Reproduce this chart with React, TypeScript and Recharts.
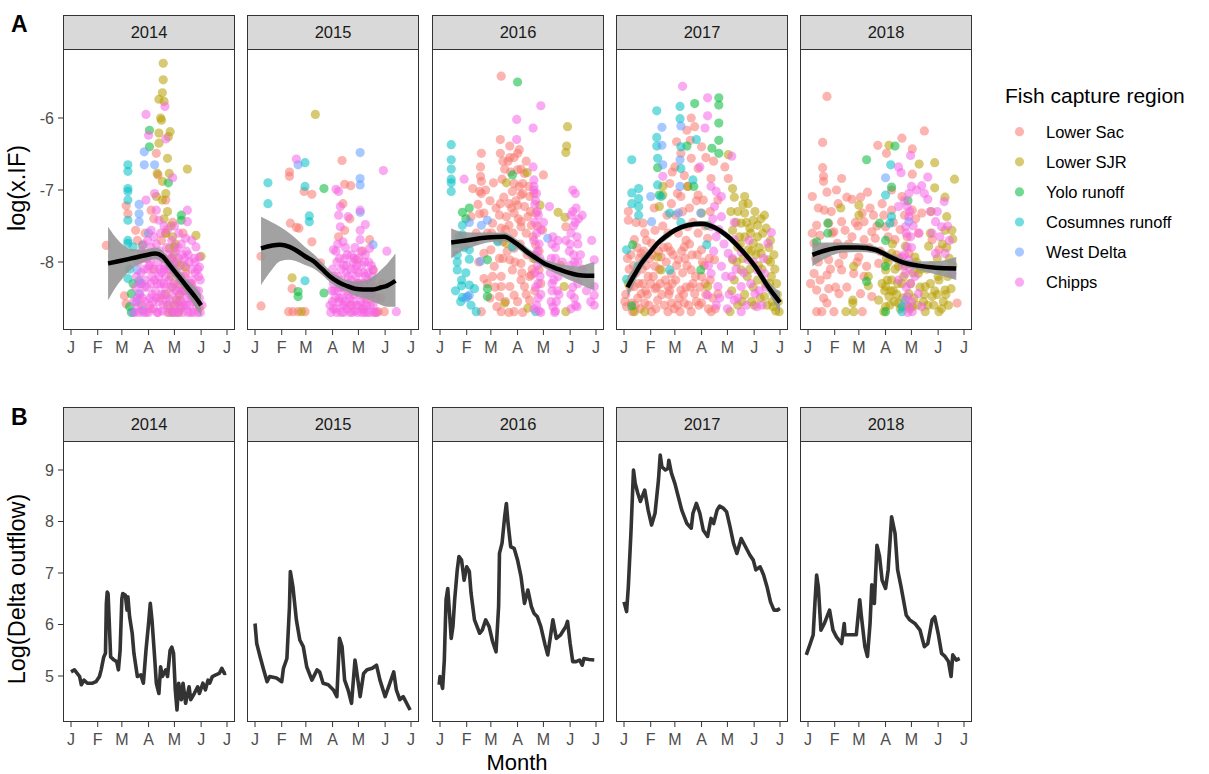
import React from "react";
import { ComposedChart, Scatter, Line, Area, XAxis, YAxis } from "recharts";

type Pt = [number, number];
// [day of year, fitted value, lower bound, upper bound]
type Fit = [number, number, number, number];

const years = ["2014", "2015", "2016", "2017", "2018"];
const monthTicks = [0, 31, 59, 90, 120, 151, 181];
const monthLabels = ["J", "F", "M", "A", "M", "J", "J"];
const regions = ["Lower Sac", "Lower SJR", "Yolo runoff", "Cosumnes runoff", "West Delta", "Chipps"];
const regionColors = ["#F8766D", "#B79F00", "#00BA38", "#00BFC4", "#619CFF", "#F564E3"];
const ifTicks = [-8, -7, -6];
const flowTicks = [5, 6, 7, 8, 9];

// ---- 2014 catches ----
const sac14: Pt[] = [[41,-7.77],[64,-7.22],[66,-7.33],[75,-7.56],[77,-7.7],[62,-8.47],[64,-8.58],[99,-6.49],[101,-6.79],[110,-7.14],[110,-7.6],[130,-7.6],[133,-8.16],[126,-8.53],[145,-8.53],[93,-7.28],[89,-7.88],[84,-7.95],[95,-8.1],[105,-7.7],[118,-7.45],[140,-8.3],[82,-8.6],[92,-8.65],[103,-8.5],[86,-7.6],[96,-7.4]];
const sjr14: Pt[] = [[107,-5.24],[107,-5.47],[106,-5.65],[102,-5.74],[108,-5.77],[104,-6.0],[105,-6.03],[102,-6.21],[115,-6.19],[113,-6.26],[102,-6.35],[112,-6.56],[135,-6.71],[100,-6.77],[114,-6.77],[106,-6.88],[110,-7.05],[99,-7.09],[106,-7.14],[110,-7.6],[118,-7.65],[120,-7.79],[114,-7.81],[145,-7.63],[151,-7.92],[133,-8.07],[122,-8.53],[128,-8.63],[118,-8.35],[149,-8.63],[116,-8.2],[120,-8.6],[124,-8.3],[127,-8.05],[117,-7.95],[121,-7.75],[114,-8.7],[110,-8.45],
  [112,-7.3],[116,-7.5],[119,-7.9],[123,-8.0],[126,-8.45],[112,-8.6],[118,-8.7],[125,-8.7],[108,-7.4],[130,-8.4]];
const yolo14: Pt[] = [[91,-6.17],[91,-6.4],[113,-6.9],[128,-7.35],[128,-7.42],[70,-8.44],[70,-8.7],[83,-7.77],[72,-8.3],[68,-8.62]];
const cos14: Pt[] = [[66,-6.65],[66,-6.74],[66,-6.98],[66,-7.02],[66,-7.14],[66,-7.42],[66,-7.7],[66,-7.74],[66,-8.23],[72,-7.79],[79,-8.26],[68,-8.1]];
const wd14: Pt[] = [[85,-6.47],[85,-6.65],[97,-6.65],[79,-7.2],[79,-7.33],[79,-7.44],[77,-8.11],[79,-8.44],[83,-8.67],[72,-8.7],[90,-7.6],[82,-8.3],[76,-8.55]];
const chipps14: Pt[] = [[87,-5.95],[90,-6.24],[109,-5.84],[110,-6.29],[87,-7.14],[97,-7.05],[118,-6.83],[135,-7.28],[135,-7.44],[133,-7.67],[145,-7.79],[149,-7.93],[149,-8.07],[99,-7.28],[102,-7.42],[93,-7.56],[108,-7.5],[125,-7.6],[140,-7.7],
  [74,-8.7],[78,-8.62],[80,-8.45],[84,-8.7],[86,-8.55],[88,-8.35],[90,-8.7],[92,-8.5],[94,-8.2],[96,-8.65],[98,-8.4],[100,-8.7],[102,-8.55],[104,-8.3],[106,-8.68],[108,-8.45],[110,-8.2],[112,-8.7],[114,-8.52],[116,-8.35],[118,-8.7],[120,-8.6],[122,-8.4],[124,-8.7],[126,-8.25],[128,-8.55],[130,-8.7],[132,-8.4],[134,-8.6],[136,-8.7],[138,-8.3],[140,-8.5],[142,-8.7],[144,-8.15],[146,-8.62],[148,-8.4],[150,-8.7],
  [78,-8.0],[82,-7.85],[85,-8.1],[88,-7.95],[91,-8.05],[93,-7.8],[95,-7.9],[97,-8.1],[99,-7.75],[101,-8.0],[103,-7.85],[105,-8.15],[107,-7.95],[109,-8.05],[111,-7.8],[113,-7.9],[115,-8.1],[117,-7.7],[119,-8.0],[121,-7.85],[123,-8.1],[125,-7.95],[127,-8.2],[129,-7.9],[131,-8.05],[134,-7.85],[137,-8.0],[140,-8.25],[143,-7.95],[147,-8.1],[150,-8.25],[76,-8.2],[80,-8.3],[86,-8.25],[94,-8.45],[100,-8.3],[108,-8.3],[114,-8.25],[120,-8.15],[126,-8.45],[132,-8.2],[138,-8.45],
  [73,-8.55],[75,-8.35],[77,-8.5],[79,-8.7],[81,-8.15],[83,-8.5],[85,-8.35],[87,-8.7],[89,-8.1],[91,-8.6],[93,-8.3],[95,-8.55],[97,-8.25],[99,-8.5],[101,-8.7],[103,-8.1],[105,-8.45],[107,-8.6],[109,-8.35],[111,-8.55],[113,-8.1],[115,-8.65],[117,-8.45],[119,-8.3],[121,-8.7],[123,-8.55],[125,-8.35],[127,-8.65],[129,-8.4],[131,-8.6],[133,-8.3],[135,-8.5],[137,-8.6],[139,-8.7],[141,-8.35],[143,-8.55],[145,-8.4],[147,-8.7],[149,-8.5],[152,-8.6],
  [84,-7.75],[89,-7.7],[96,-7.65],[104,-7.6],[112,-7.55],[120,-7.5],[128,-7.75],[136,-7.9],[144,-8.0],[100,-7.9],[116,-7.95],[124,-7.8],[92,-8.0],[108,-8.1],[132,-7.95],[140,-8.1],[148,-8.2],[118,-8.05],[102,-8.2],[86,-7.9]];
const fit14: Fit[] = [[43,-8.02,-8.53,-7.51],[55,-7.99,-8.3,-7.7],[70,-7.95,-8.1,-7.82],[85,-7.91,-8.0,-7.83],[98,-7.88,-7.96,-7.8],[106,-7.92,-8.0,-7.84],[115,-8.05,-8.13,-7.97],[125,-8.2,-8.29,-8.11],[135,-8.35,-8.45,-8.25],[145,-8.5,-8.64,-8.36],[151,-8.6,-8.75,-8.45]];

// ---- 2015 catches ----
const sac15: Pt[] = [[7,-7.92],[7,-8.61],[40,-6.75],[40,-6.81],[57,-7.02],[66,-7.06],[101,-6.59],[104,-6.92],[111,-6.94],[41,-7.46],[48,-7.52],[51,-7.53],[66,-7.72],[43,-8.37],[76,-8.01],[102,-7.19],[104,-7.56],[97,-7.65],[133,-7.69],[118,-7.97],[137,-8.11],[143,-8.69],[150,-8.69],[39,-8.69],[44,-8.69],[50,-8.69],[58,-8.69],[130,-8.53],[110,-7.4],[125,-7.85],
  [140,-8.7],[136,-8.45],[146,-8.5],[112,-8.6],[120,-8.3],[125,-8.65],[148,-8.3]];
const sjr15: Pt[] = [[70,-5.95],[43,-8.22],[54,-8.69]];
const yolo15: Pt[] = [[80,-6.98],[50,-8.41],[50,-8.48],[80,-8.43]];
const cos15: Pt[] = [[15,-6.9],[15,-7.19],[58,-6.62],[58,-6.95],[63,-7.36],[63,-7.44],[58,-8.26]];
const wd15: Pt[] = [[122,-6.48],[122,-6.84],[122,-6.93],[122,-7.31],[50,-6.65],[137,-7.76]];
const chipps15: Pt[] = [[48,-6.57],[149,-6.73],[94,-6.99],[97,-7.02],[122,-7.28],[99,-7.23],[97,-7.35],[108,-7.37],[128,-7.48],[99,-7.51],[122,-7.56],[122,-7.69],[102,-7.72],[133,-7.81],[153,-7.85],[91,-7.83],[137,-8.11],[91,-8.3],[164,-8.69],
  [88,-8.7],[90,-8.55],[92,-8.4],[94,-8.65],[96,-8.2],[98,-8.5],[100,-8.7],[102,-8.35],[104,-8.6],[106,-8.05],[108,-8.45],[110,-8.7],[112,-8.25],[114,-8.55],[116,-8.68],[118,-8.4],[120,-8.15],[122,-8.6],[124,-8.7],[126,-8.3],[128,-8.5],[130,-8.7],[132,-8.4],[134,-8.6],[136,-8.2],[138,-8.7],[140,-8.5],
  [95,-8.0],[100,-8.1],[104,-7.95],[108,-8.2],[112,-7.9],[116,-8.1],[120,-7.95],[124,-8.05],[128,-8.2],[132,-8.0],[110,-8.5],[118,-8.6],[126,-8.65],[96,-8.4],[102,-8.6],[114,-8.35],[122,-8.3],[130,-8.45],[92,-8.2],[106,-8.4],[134,-8.3],
  [87,-8.6],[89,-8.4],[91,-8.65],[93,-8.5],[95,-8.7],[97,-8.55],[99,-8.35],[101,-8.5],[103,-8.7],[105,-8.55],[107,-8.65],[109,-8.3],[111,-8.6],[113,-8.7],[115,-8.45],[117,-8.2],[119,-8.7],[121,-8.45],[123,-8.55],[125,-8.4],[127,-8.7],[129,-8.6],[131,-8.25],[133,-8.7],[135,-8.45],[137,-8.6],[139,-8.35],[141,-8.7],
  [94,-7.85],[98,-7.95],[103,-8.05],[107,-7.9],[111,-8.1],[115,-7.95],[119,-8.3],[123,-7.85],[127,-8.0],[131,-8.15],[135,-8.05],[100,-8.25],[106,-8.15],[114,-8.0],[126,-8.15],[118,-8.05],[110,-8.35],[90,-8.1],[96,-7.75],[105,-7.8],[116,-7.8],[128,-7.9]];
const fit15: Fit[] = [[7,-7.81,-8.32,-7.37],[20,-7.77,-8.1,-7.45],[29,-7.76,-7.99,-7.51],[40,-7.79,-7.97,-7.6],[48,-7.84,-7.99,-7.68],[58,-7.92,-8.04,-7.79],[68,-7.99,-8.09,-7.89],[78,-8.1,-8.18,-8.01],[87,-8.2,-8.28,-8.12],[97,-8.28,-8.36,-8.2],[106,-8.33,-8.41,-8.25],[116,-8.37,-8.47,-8.27],[126,-8.38,-8.5,-8.26],[137,-8.38,-8.55,-8.2],[147,-8.35,-8.6,-8.1],[153,-8.33,-8.62,-8.03],[163,-8.26,-8.62,-7.88]];

// ---- 2016 catches ----
const sac16: Pt[] = [[71,-5.42],[70,-6.3],[81,-6.39],[92,-6.44],[70,-6.49],[48,-6.49],[81,-6.55],[90,-6.49],[47,-6.68],[38,-6.98],[48,-6.88],[48,-7.05],[47,-6.81],[75,-6.71],[90,-6.72],[94,-6.71],[98,-6.77],[120,-6.79],[86,-6.91],[96,-6.91],[84,-7.02],[94,-7.07],[104,-7.09],[109,-7.05],[70,-7.19],[80,-7.19],[90,-7.21],[98,-7.23],[69,-7.35],[77,-7.37],[86,-7.32],[94,-7.44],[102,-7.37],[111,-7.32],[119,-7.56],[61,-7.46],[51,-7.32],[46,-7.33],[36,-7.37],[55,-7.6],[71,-7.53],[80,-7.49],[94,-7.51],[106,-7.49],[73,-7.72],[86,-7.81],[111,-7.76],[59,-7.83],[51,-7.88],[63,-8.06],[73,-7.95],[81,-7.97],[94,-8.02],[108,-7.95],[115,-8.11],[51,-8.23],[61,-8.2],[71,-8.2],[84,-8.11],[94,-8.25],[106,-8.18],[71,-8.34],[81,-8.34],[98,-8.34],[69,-8.48],[86,-8.46],[104,-8.53],[71,-8.69],[86,-8.69],[48,-8.69],[146,-7.51],[46,-7.02],
  [42,-7.6],[44,-7.2],[53,-7.0],[58,-7.15],[62,-6.9],[65,-7.25],[67,-7.7],[69,-7.95],[72,-6.85],[74,-7.1],[76,-7.55],[78,-7.85],[79,-6.6],[83,-7.25],[85,-7.6],[87,-8.0],[88,-7.15],[91,-7.4],[93,-7.75],[95,-8.15],[96,-7.05],[100,-7.6],[101,-7.9],[103,-6.95],[105,-7.3],[107,-8.1],[108,-7.65],[110,-8.4],[113,-7.5],[115,-7.85],[117,-8.3],[58,-8.5],[64,-8.35],[76,-8.55],[80,-8.7],[90,-8.55],[96,-8.7],[100,-8.45],[104,-8.2],[66,-8.62],[55,-8.3],[45,-8.0],[40,-7.7],[60,-7.6],[92,-6.95],[82,-6.75],[73,-6.6],[86,-6.55],[100,-6.6]];
const sjr16: Pt[] = [[148,-6.12],[147,-6.39],[146,-6.48],[77,-6.9],[101,-6.76],[137,-7.31],[145,-7.38],[116,-7.21],[77,-7.74],[144,-8.34],[75,-8.57],[102,-8.64],[146,-8.69],[110,-7.95],[140,-8.05]];
const yolo16: Pt[] = [[90,-5.5],[26,-7.31],[34,-7.25],[55,-7.97],[55,-8.37],[55,-8.48],[84,-6.79],[30,-7.4]];
const cos16: Pt[] = [[13,-6.37],[13,-6.58],[13,-6.71],[13,-6.85],[13,-6.9],[13,-7.02],[26,-7.49],[26,-7.62],[20,-7.9],[20,-8.0],[20,-8.11],[25,-8.25],[25,-8.33],[34,-8.32],[40,-8.37],[26,-8.49],[32,-8.48],[42,-8.69],[34,-7.83],[34,-7.96],[67,-7.72],[111,-8.69],[84,-7.79],[18,-7.75],[30,-8.15],[22,-7.65],[28,-7.8],[18,-8.4],[36,-8.6],[24,-8.55]];
const wd16: Pt[] = [[34,-7.45],[48,-7.49],[55,-7.42],[47,-7.99],[125,-7.67],[34,-8.46],[30,-8.5]];
const chipps16: Pt[] = [[28,-6.85],[117,-5.83],[89,-6.02],[108,-6.14],[89,-6.3],[108,-6.68],[109,-6.86],[109,-6.95],[154,-7.0],[157,-7.05],[127,-7.23],[158,-7.25],[165,-7.35],[152,-7.35],[179,-7.97],[179,-8.34],[179,-8.46],[179,-8.6],[120,-7.45],[142,-8.0],[146,-7.7],[165,-8.1],[170,-8.4],
  [109,-7.0],[111,-7.15],[113,-7.3],[110,-7.45],[112,-7.6],[115,-7.75],[110,-7.9],[113,-8.05],[116,-8.2],[111,-8.35],[114,-8.5],[109,-8.65],[117,-8.7],[112,-7.05],
  [131,-7.65],[134,-7.8],[129,-7.95],[136,-8.1],[132,-8.25],[130,-8.4],[135,-8.55],[133,-8.7],[137,-7.7],[128,-8.15],[138,-8.45],[131,-8.62],
  [154,-7.3],[157,-7.45],[152,-7.6],[160,-7.75],[155,-7.9],[151,-8.05],[158,-8.2],[154,-8.35],[156,-8.5],[152,-8.65],[159,-8.62],[160,-8.0],[150,-7.85],
  [110,-7.2],[114,-7.35],[117,-7.55],[109,-7.7],[113,-7.85],[116,-7.95],[110,-8.15],[114,-8.3],[117,-8.45],[112,-8.6],[115,-8.68],[130,-7.75],[134,-7.95],[137,-8.2],[130,-8.3],[136,-8.4],[129,-8.55],[134,-8.68],[155,-7.5],[159,-7.65],[151,-7.75],[156,-8.0],[153,-8.15],[160,-8.3],[152,-8.45],[157,-8.6],[161,-7.4],[163,-7.9],[175,-8.55],[176,-7.7]];
const fit16: Fit[] = [[13,-7.73,-7.95,-7.53],[25,-7.71,-7.85,-7.58],[36,-7.69,-7.8,-7.59],[55,-7.66,-7.73,-7.59],[75,-7.65,-7.71,-7.59],[86,-7.72,-7.78,-7.66],[95,-7.8,-7.86,-7.74],[102,-7.87,-7.93,-7.81],[112,-7.95,-8.01,-7.89],[121,-8.02,-8.08,-7.96],[131,-8.07,-8.14,-8.0],[140,-8.11,-8.19,-8.03],[150,-8.15,-8.25,-8.05],[160,-8.18,-8.3,-8.06],[170,-8.19,-8.35,-8.03],[179,-8.19,-8.39,-8.0]];

// ---- 2017 catches ----
const sac17: Pt[] = [[5,-7.3],[5,-7.42],[22,-7.46],[24,-7.6],[36,-7.56],[12,-7.69],[32,-7.74],[20,-7.88],[51,-7.6],[78,-6.0],[82,-6.12],[73,-6.17],[77,-6.31],[90,-6.4],[61,-6.33],[66,-6.49],[78,-6.56],[59,-6.68],[53,-6.91],[74,-6.95],[66,-7.09],[86,-7.07],[117,-6.68],[121,-6.84],[101,-6.84],[109,-7.14],[55,-7.19],[76,-7.25],[92,-7.14],[63,-7.6],[74,-7.51],[86,-7.6],[51,-7.79],[70,-7.79],[90,-7.83],[43,-7.93],[36,-8.06],[63,-7.97],[78,-8.11],[55,-8.16],[90,-8.2],[28,-8.2],[12,-8.34],[20,-8.44],[36,-8.37],[51,-8.34],[66,-8.39],[82,-8.44],[9,-8.57],[24,-8.57],[39,-8.53],[55,-8.57],[70,-8.57],[90,-8.57],[10,-8.69],[32,-8.69],[51,-8.69],[65,-8.69],[78,-8.69],[101,-8.69],[105,-7.97],[97,-7.67],[3,-8.62],[109,-8.44],
  [2,-8.45],[6,-8.1],[8,-7.9],[14,-8.15],[16,-8.5],[18,-7.95],[22,-8.3],[26,-8.05],[27,-8.45],[30,-7.95],[34,-8.2],[38,-8.35],[41,-8.1],[44,-8.45],[46,-7.8],[48,-8.25],[53,-8.4],[57,-7.9],[58,-8.65],[60,-8.25],[64,-8.5],[68,-8.15],[71,-7.95],[72,-8.35],[75,-8.6],[76,-7.75],[80,-8.3],[84,-8.55],[85,-7.9],[88,-8.35],[93,-8.05],[95,-8.45],[98,-8.65],[100,-8.25],[103,-8.5],[106,-8.65],[60,-7.35],[68,-7.3],[72,-7.7],[80,-7.45],[84,-7.15],[94,-7.5],[100,-7.3],[56,-6.75],[62,-7.05],[70,-6.8],[86,-6.7],[95,-6.55],[104,-6.6],[26,-7.7],[45,-7.5],[50,-7.35],[35,-7.25],[14,-7.45],
  [1,-8.55],[4,-7.95],[7,-8.35],[11,-8.05],[13,-8.6],[15,-7.8],[17,-8.3],[19,-8.65],[21,-8.1],[23,-7.85],[25,-8.4],[29,-8.6],[31,-8.3],[33,-7.9],[37,-8.65],[40,-7.85],[42,-8.3],[47,-8.6],[49,-8.0],[52,-8.45],[54,-7.85],[56,-8.3],[61,-8.05],[62,-8.6],[67,-7.85],[69,-8.45],[73,-8.05],[77,-8.35],[79,-7.9],[83,-8.2],[87,-8.6],[91,-8.0],[94,-8.3],[99,-7.95]];
const sjr17: Pt[] = [[121,-6.51],[126,-6.98],[140,-7.09],[144,-7.19],[132,-7.3],[140,-7.32],[150,-7.42],[136,-7.46],[146,-7.53],[155,-7.49],[126,-7.56],[140,-7.65],[155,-7.65],[150,-7.74],[165,-7.53],[132,-7.79],[144,-7.83],[159,-7.88],[126,-7.97],[167,-7.97],[136,-8.11],[155,-8.25],[128,-8.25],[169,-8.3],[163,-8.48],[173,-8.62],[180,-8.69],[123,-8.69],[45,-6.95],[45,-7.07],[41,-7.23],[39,-7.93],[43,-8.11],[12,-8.69],[24,-8.69],[5,-8.3],[74,-6.95],[90,-7.32],[97,-8.34],
  [128,-7.1],[134,-7.65],[138,-7.95],[142,-7.45],[148,-7.85],[152,-7.3],[157,-7.8],[161,-7.6],[163,-7.35],[170,-7.7],[175,-8.1],[178,-8.45],[172,-8.55],[166,-8.6],[158,-8.5],[148,-8.55],[140,-8.45],[132,-8.6],[146,-8.1],[150,-8.35],[160,-8.1],[170,-8.0],[138,-7.2],[130,-7.45],[124,-7.3],[176,-8.68],
  [125,-8.4],[131,-8.0],[135,-7.75],[137,-8.55],[143,-8.2],[147,-7.6],[151,-8.6],[153,-7.9],[156,-8.05],[159,-7.4],[164,-8.3],[168,-7.8],[171,-8.2],[174,-7.9],[177,-8.3],[179,-8.55]];
const yolo17: Pt[] = [[110,-5.72],[110,-5.82],[110,-6.07],[110,-6.31],[110,-6.49],[102,-6.42],[82,-5.8],[73,-6.39],[39,-6.69],[81,-6.95],[41,-7.07],[10,-7.76],[9,-8.61],[89,-8.11],[97,-7.49]];
const cos17: Pt[] = [[9,-6.58],[9,-7.04],[9,-7.19],[17,-6.98],[17,-7.12],[17,-7.23],[17,-7.35],[38,-5.9],[38,-6.27],[38,-6.39],[39,-6.56],[39,-6.93],[43,-7.09],[65,-5.84],[65,-6.01],[66,-6.4],[66,-6.7],[84,-6.3],[80,-6.86],[3,-7.83],[3,-8.24],[53,-7.32],[66,-7.45],[53,-8.11],[96,-7.76],[16,-8.06]];
const wd17: Pt[] = [[44,-6.13],[44,-6.38],[45,-6.65],[66,-6.11],[65,-6.58],[31,-7.09],[32,-7.44],[65,-6.95],[63,-7.32],[89,-7.32]];
const chipps17: Pt[] = [[68,-5.56],[97,-5.72],[97,-5.97],[94,-6.14],[125,-6.53],[45,-6.81],[88,-6.68],[101,-6.95],[107,-7.02],[113,-7.09],[105,-7.23],[113,-7.37],[101,-7.51],[107,-7.65],[128,-7.69],[121,-7.88],[136,-7.86],[144,-7.97],[113,-8.06],[101,-8.16],[125,-8.2],[155,-8.11],[163,-8.16],[109,-8.34],[136,-8.34],[152,-8.44],[97,-8.46],[107,-8.6],[128,-8.53],[136,-8.69],[154,-8.62],[171,-7.59],[167,-7.74],
  [103,-7.4],[110,-7.55],[116,-7.75],[118,-8.2],[122,-8.45],[126,-7.95],[130,-8.1],[132,-8.5],[139,-8.15],[142,-8.6],[147,-8.3],[150,-8.0],[157,-8.4],[160,-8.6],[165,-8.35],[104,-7.85],[98,-8.05],[111,-8.5],[120,-8.65],[128,-7.45],[145,-7.7],[162,-7.95]];
const fit17: Fit[] = [[4,-8.35,-8.5,-8.2],[12,-8.18,-8.29,-8.07],[20,-8.02,-8.1,-7.94],[30,-7.87,-7.93,-7.81],[39,-7.74,-7.79,-7.69],[49,-7.64,-7.69,-7.59],[59,-7.56,-7.6,-7.52],[74,-7.49,-7.53,-7.45],[90,-7.47,-7.51,-7.43],[105,-7.52,-7.56,-7.48],[121,-7.65,-7.7,-7.6],[136,-7.83,-7.88,-7.78],[152,-8.06,-8.12,-8.0],[167,-8.34,-8.42,-8.26],[181,-8.56,-8.7,-8.42]];

// ---- 2018 catches ----
const sac18: Pt[] = [[22,-5.7],[17,-6.34],[17,-6.69],[18,-6.81],[18,-6.88],[5,-7.09],[22,-7.03],[33,-7.0],[39,-6.84],[19,-7.28],[35,-7.19],[81,-6.38],[109,-6.28],[121,-6.43],[135,-6.18],[91,-6.49],[69,-7.03],[51,-7.13],[121,-6.78],[10,-7.49],[24,-7.46],[39,-7.44],[14,-7.63],[30,-7.58],[43,-7.56],[63,-7.32],[76,-7.35],[86,-7.19],[97,-7.28],[65,-7.44],[74,-7.58],[7,-7.74],[20,-7.81],[34,-7.74],[51,-7.65],[65,-7.69],[78,-7.67],[12,-8.0],[24,-7.97],[36,-8.02],[59,-7.93],[68,-8.06],[82,-8.02],[7,-8.16],[22,-8.18],[39,-8.11],[53,-8.16],[65,-8.2],[10,-8.39],[24,-8.37],[36,-8.44],[61,-8.44],[74,-8.48],[22,-8.57],[10,-8.69],[16,-8.69],[30,-8.69],[63,-8.69],[132,-7.32],[144,-7.69],[152,-7.83],[173,-8.57],[97,-7.0],[109,-7.09],[121,-7.28],[90,-7.51],[101,-7.69],[117,-7.88],[128,-7.6],
  [3,-8.3],[9,-7.95],[14,-8.25],[18,-8.5],[26,-8.1],[28,-7.6],[32,-8.35],[41,-7.9],[45,-8.35],[47,-7.75],[55,-7.45],[57,-8.0],[61,-7.1],[71,-7.8],[72,-7.25],[80,-7.5],[84,-7.85],[88,-7.35],[93,-7.65],[99,-7.45],[103,-7.9],[107,-7.55],[112,-7.35],[115,-7.65],[125,-7.4],[5,-7.6],[12,-7.25],[27,-7.3],[45,-7.1],[58,-7.5]];
const sjr18: Pt[] = [[94,-6.38],[129,-6.64],[147,-6.62],[170,-6.85],[147,-6.97],[159,-7.1],[38,-7.25],[59,-7.21],[59,-7.35],[143,-7.3],[161,-7.37],[167,-7.56],[159,-7.56],[168,-7.68],[161,-7.8],[53,-8.06],[70,-8.2],[70,-8.33],[52,-8.53],[52,-8.57],[44,-8.69],[53,-8.69],[90,-8.11],[97,-8.25],[105,-8.06],[90,-8.34],[109,-8.3],[117,-8.44],[128,-8.16],[136,-8.34],[144,-8.48],[152,-8.25],[159,-8.39],[166,-8.37],[94,-8.48],[105,-8.57],[121,-8.62],[136,-8.69],[152,-8.69],[90,-8.62],[113,-7.78],[97,-7.88],[124,-7.93],[140,-7.78],[88,-8.69],[82,-8.53],
  [92,-8.25],[95,-8.6],[99,-8.4],[101,-8.1],[103,-8.45],[107,-8.65],[111,-8.2],[115,-8.6],[119,-8.3],[123,-8.5],[126,-8.0],[130,-8.35],[134,-8.55],[138,-8.1],[142,-8.3],[146,-8.6],[150,-8.45],[154,-8.1],[157,-8.55],[162,-8.2],[164,-7.95],[168,-8.05],[150,-7.95],[142,-7.6],[156,-7.75],[98,-7.75],[86,-8.3],[93,-8.0],[108,-8.0],
  [89,-8.4],[91,-7.95],[96,-8.4],[100,-8.55],[104,-8.3],[106,-7.95],[110,-8.5],[113,-8.05],[118,-8.65],[122,-8.15],[127,-8.6],[131,-8.1],[135,-8.45],[139,-8.6],[143,-8.05],[147,-8.4],[151,-8.2],[155,-8.65],[160,-8.45],[163,-8.6]];
const yolo18: Pt[] = [[68,-6.58],[101,-6.39],[97,-6.96],[23,-7.46],[23,-7.6],[10,-7.72],[83,-7.46],[90,-7.7],[116,-7.15],[68,-8.27],[90,-8.69],[90,-8.06]];
const cos18: Pt[] = [[96,-6.65],[95,-7.46],[90,-7.07],[97,-7.37],[109,-8.69],[109,-8.62]];
const wd18: Pt[] = [[90,-6.83],[117,-7.44],[113,-8.53]];
const chipps18: Pt[] = [[119,-6.52],[105,-6.68],[108,-6.76],[139,-6.82],[132,-6.94],[120,-6.95],[117,-7.05],[139,-7.13],[158,-7.16],[148,-7.44],[105,-7.23],[155,-7.51],[144,-7.6],[115,-7.23],[117,-7.37],[113,-7.51],[119,-7.65],[115,-7.79],[117,-7.97],[113,-8.16],[119,-8.3],[115,-8.48],[117,-8.62],[109,-7.93],[105,-8.25],[128,-8.44],[132,-8.62],[121,-8.69],[148,-7.88],[159,-7.88],[167,-8.16],
  [112,-7.15],[118,-7.3],[114,-7.6],[120,-7.8],[112,-7.9],[118,-8.1],[114,-8.35],[120,-8.55],[116,-8.7],[122,-7.5],[110,-8.05],[124,-8.2],[135,-7.05],[142,-7.3],[150,-7.3],[153,-7.65],[162,-7.5],[164,-7.7],[126,-7.0],[129,-7.6]];
const fit18: Fit[] = [[5,-7.9,-8.06,-7.74],[20,-7.84,-7.95,-7.73],[39,-7.8,-7.87,-7.73],[59,-7.8,-7.86,-7.74],[78,-7.83,-7.88,-7.78],[94,-7.92,-7.97,-7.87],[109,-8.0,-8.05,-7.95],[128,-8.05,-8.11,-7.99],[148,-8.08,-8.17,-7.99],[172,-8.09,-8.25,-7.93]];

// ---- Delta outflow (log) ----
const flow14: Pt[] = [[0,5.08],[4,5.12],[10,4.99],[12,4.83],[15,4.92],[19,4.86],[25,4.86],[29,4.89],[33,4.99],[35,5.12],[38,5.37],[40,5.44],[41,6.4],[42,6.63],[43,6.6],[44,6.2],[46,5.37],[50,5.31],[53,5.28],[55,5.12],[57,5.5],[59,6.5],[60,6.6],[63,6.57],[65,6.28],[66,6.54],[68,6.15],[71,5.83],[73,5.44],[77,4.99],[81,5.02],[84,4.86],[87,5.5],[90,6.02],[92,6.41],[94,6.08],[97,5.37],[99,4.86],[102,4.66],[104,5.18],[106,4.99],[110,5.12],[112,4.99],[115,5.5],[117,5.56],[119,5.44],[121,4.73],[123,4.34],[125,4.86],[128,4.54],[130,4.86],[133,4.47],[137,4.79],[139,4.54],[143,4.66],[147,4.79],[149,4.66],[153,4.86],[156,4.73],[159,4.92],[161,4.86],[164,4.99],[168,5.02],[172,5.05],[175,5.15],[178,5.05],[180,5.06]];
const flow15: Pt[] = [[0,6.02],[2,5.63],[6,5.37],[10,5.12],[14,4.89],[17,4.99],[25,4.96],[31,4.89],[33,5.15],[37,5.34],[40,6.35],[41,7.03],[44,6.73],[48,6.09],[52,5.7],[56,5.57],[60,5.18],[66,4.92],[72,5.12],[75,5.08],[79,4.86],[85,4.83],[91,4.73],[95,4.6],[98,5.73],[101,5.57],[104,4.92],[108,4.73],[112,4.47],[116,5.31],[117,5.21],[122,4.6],[126,5.05],[130,5.12],[136,5.15],[141,5.21],[145,4.92],[151,4.6],[155,4.79],[161,5.08],[164,4.73],[168,4.54],[172,4.6],[180,4.34]];
const flow16: Pt[] = [[-1,4.83],[0,4.99],[3,4.76],[5,5.31],[7,6.48],[9,6.7],[11,6.22],[13,5.73],[15,5.96],[17,6.48],[20,7.06],[22,7.32],[25,7.25],[28,6.86],[31,7.12],[34,7.03],[36,6.61],[40,6.09],[46,5.83],[49,5.89],[53,6.09],[57,5.96],[61,5.67],[65,5.47],[68,6.35],[69,7.38],[72,7.58],[75,8.09],[77,8.35],[79,7.96],[82,7.51],[86,7.48],[90,7.25],[94,6.93],[98,6.41],[102,6.67],[106,6.35],[109,6.22],[113,6.15],[117,5.96],[122,5.6],[125,5.41],[131,6.09],[135,5.73],[140,5.8],[146,5.96],[148,6.06],[151,5.63],[154,5.28],[158,5.28],[162,5.31],[165,5.21],[167,5.34],[173,5.32],[179,5.31]];
const flow17: Pt[] = [[0,6.44],[3,6.25],[5,6.73],[8,7.77],[11,9.0],[13,8.74],[16,8.55],[19,8.39],[24,8.61],[28,8.22],[32,7.93],[36,8.16],[40,8.81],[42,9.29],[44,9.06],[48,9.0],[51,9.03],[52,9.19],[55,8.94],[59,8.74],[63,8.48],[67,8.22],[73,7.96],[78,7.87],[80,8.16],[84,8.35],[88,8.16],[92,7.83],[97,7.71],[101,8.06],[104,7.96],[108,8.22],[111,8.3],[115,8.26],[119,8.19],[123,7.9],[127,7.58],[131,7.38],[136,7.67],[141,7.51],[146,7.35],[150,7.25],[153,7.06],[158,7.12],[162,6.96],[166,6.73],[170,6.44],[174,6.28],[178,6.28],[181,6.31]];
const flow18: Pt[] = [[-2,5.41],[2,5.6],[6,5.8],[8,6.41],[10,6.96],[12,6.73],[15,5.89],[19,6.02],[25,6.28],[29,5.89],[33,5.76],[39,5.63],[42,6.02],[43,5.8],[48,5.8],[56,5.8],[60,6.48],[62,6.15],[66,5.57],[69,5.38],[72,6.02],[74,6.77],[77,6.41],[80,7.54],[83,7.32],[86,6.86],[90,6.7],[93,7.06],[97,8.09],[101,7.77],[104,7.06],[108,6.73],[114,6.18],[118,6.09],[124,6.02],[130,5.89],[135,5.57],[139,5.63],[144,6.09],[147,6.15],[151,5.83],[155,5.44],[159,5.38],[163,5.28],[166,4.99],[168,5.41],[172,5.31],[176,5.34]];

const catches: Pt[][][] = [
  [sac14, sjr14, yolo14, cos14, wd14, chipps14],
  [sac15, sjr15, yolo15, cos15, wd15, chipps15],
  [sac16, sjr16, yolo16, cos16, wd16, chipps16],
  [sac17, sjr17, yolo17, cos17, wd17, chipps17],
  [sac18, sjr18, yolo18, cos18, wd18, chipps18],
];
const fits: Fit[][] = [fit14, fit15, fit16, fit17, fit18];
const flows: Pt[][] = [flow14, flow15, flow16, flow17, flow18];

// layout
const FONT = '"Liberation Sans", Arial, Helvetica, sans-serif';
const PANEL_X = [63, 247, 432, 616, 800];
const PANEL_W = 172;
const STRIP_H = 34;
const X_AXIS_H = 36;
const ROW_A = { strip: 15, top: 49, height: 281, domain: [-8.944, -5.042] as [number, number], ticks: ifTicks };
const ROW_B = { strip: 407, top: 441, height: 281, domain: [4.107, 9.563] as [number, number], ticks: flowTicks };
const DAY_DOMAIN: [number, number] = [-9.3, 190.3];
const DOT_ALPHA = 0.55;

const toXY = (pts: Pt[]) => pts.map(([day, v]) => ({ day, v }));

const dotShape = (color: string) => (props: any) =>
  props.cx == null ? <g /> : (
    <circle cx={props.cx} cy={props.cy} r={4.6} fill={color} fillOpacity={DOT_ALPHA} stroke="none" />
  );

type Row = typeof ROW_A;

function Facet({ col, row, year, children }: { col: number; row: Row; year: string; children: React.ReactNode }) {
  const left = PANEL_X[col];
  const showY = col === 0;
  const yW = showY ? left : 0;
  const chartLeft = showY ? 0 : left;
  return (
    <>
      <div
        style={{
          position: "absolute",
          left,
          top: row.strip,
          width: PANEL_W,
          height: STRIP_H + 1,
          boxSizing: "border-box",
          background: "#d9d9d9",
          border: "1px solid #333",
          color: "#1a1a1a",
          fontSize: 16.5,
          lineHeight: `${STRIP_H - 1}px`,
          textAlign: "center",
        }}
      >
        {year}
      </div>
      <div style={{ position: "absolute", left: chartLeft, top: row.top }}>
        <ComposedChart
          width={PANEL_W + yW}
          height={row.height + X_AXIS_H}
          margin={{ top: 0, right: 0, bottom: 0, left: 0 }}
        >
          <XAxis
            dataKey="day"
            type="number"
            domain={DAY_DOMAIN}
            ticks={monthTicks}
            interval={0}
            allowDataOverflow
            tickFormatter={(d: number) => monthLabels[monthTicks.indexOf(d)]}
            axisLine={false}
            tickLine={{ stroke: "#333" }}
            tickSize={5}
            tickMargin={7}
            height={X_AXIS_H}
            tick={{ fill: "#4d4d4d", fontSize: 16, fontFamily: FONT }}
          />
          <YAxis
            dataKey="v"
            type="number"
            domain={row.domain}
            ticks={row.ticks}
            interval={0}
            allowDataOverflow
            hide={!showY}
            width={yW}
            axisLine={false}
            tickLine={{ stroke: "#333" }}
            tickSize={5}
            tickMargin={4}
            tick={{ fill: "#4d4d4d", fontSize: 16, fontFamily: FONT }}
          />
          {children}
        </ComposedChart>
      </div>
      <div
        style={{
          position: "absolute",
          left,
          top: row.top,
          width: PANEL_W,
          height: row.height,
          boxSizing: "border-box",
          border: "1px solid #333",
          pointerEvents: "none",
        }}
      />
    </>
  );
}

export default function App() {
  return (
    <div
      style={{
        position: "absolute",
        left: 0,
        top: 0,
        width: 1209,
        height: 774,
        background: "#fff",
        fontFamily: FONT,
        overflow: "hidden",
      }}
    >
      {years.map((year, i) => (
        <Facet key={`a-${year}`} col={i} row={ROW_A} year={year}>
          {catches[i].map((pts, r) => (
            <Scatter
              key={regions[r]}
              name={regions[r]}
              data={toXY(pts)}
              fill={regionColors[r]}
              shape={dotShape(regionColors[r])}
              isAnimationActive={false}
              zIndex={100}
            />
          ))}
          <Area
            data={fits[i].map(([day, , lo, hi]) => ({ day, band: [lo, hi] }))}
            dataKey="band"
            type="monotone"
            stroke="none"
            fill="#959595"
            fillOpacity={0.88}
            isAnimationActive={false}
            zIndex={700}
          />
          <Line
            data={fits[i].map(([day, v]) => ({ day, v }))}
            dataKey="v"
            type="monotone"
            stroke="#000"
            strokeWidth={4.5}
            dot={false}
            isAnimationActive={false}
            zIndex={800}
          />
        </Facet>
      ))}
      {years.map((year, i) => (
        <Facet key={`b-${year}`} col={i} row={ROW_B} year={year}>
          <Line
            data={toXY(flows[i])}
            dataKey="v"
            type="linear"
            stroke="#333"
            strokeWidth={3.6}
            strokeLinejoin="round"
            dot={false}
            isAnimationActive={false}
          />
        </Facet>
      ))}

      <svg
        width={1209}
        height={774}
        style={{ position: "absolute", left: 0, top: 0, pointerEvents: "none" }}
        fontFamily={FONT}
      >
        <text x={11} y={32} fontSize={23} fontWeight="bold" fill="#000">A</text>
        <text x={11} y={425} fontSize={23} fontWeight="bold" fill="#000">B</text>
        <text transform="translate(25,188) rotate(-90)" textAnchor="middle" fontSize={23.5} fill="#000">
          log(x.IF)
        </text>
        <text transform="translate(25,589) rotate(-90)" textAnchor="middle" fontSize={23.5} fill="#000">
          Log(Delta outflow)
        </text>
        <text x={517} y={770} textAnchor="middle" fontSize={22} fill="#000">Month</text>

        <text x={1005} y={103} fontSize={21} fill="#000">Fish capture region</text>
        {regions.map((name, r) => (
          <g key={name}>
            <circle cx={1019.5} cy={131.7 + r * 30.1} r={4.6} fill={regionColors[r]} fillOpacity={DOT_ALPHA} />
            <text x={1046} y={137.5 + r * 30.1} fontSize={16.5} fill="#000">{name}</text>
          </g>
        ))}
      </svg>
    </div>
  );
}
